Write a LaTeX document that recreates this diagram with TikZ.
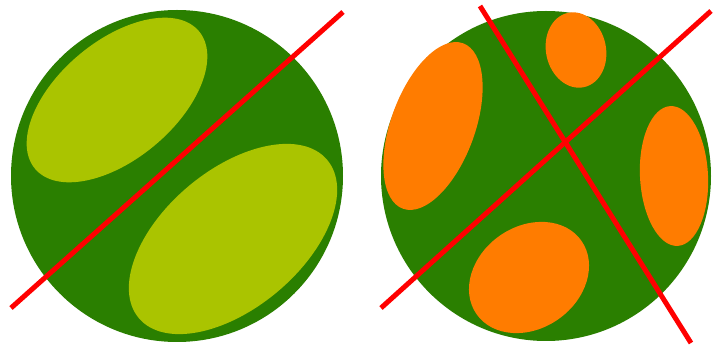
\documentclass[tikz,border=0pt]{standalone}
\definecolor{ballgreen}{RGB}{42,127,0}
\definecolor{lime}{RGB}{170,196,0}
\definecolor{patch}{RGB}{255,124,0}
\definecolor{cut}{RGB}{255,0,0}
\tikzset{
  ball/.style={fill=ballgreen},
  lpatch/.style={fill=lime},
  opatch/.style={fill=patch},
  cutline/.style={draw=cut, line width=5pt}
}
\begin{document}
\begin{tikzpicture}[x=1pt,y=-1pt]
\useasboundingbox (0,0) rectangle (716,347);
% left ball
\fill[ball] (177,176) circle (166);
\fill[lpatch] (117,100) ellipse[x radius=107, y radius=59, rotate=40];
\fill[lpatch] (233,239) ellipse[x radius=123, y radius=69, rotate=40];
\coordinate (l1) at (11,308);
\coordinate (l2) at (343,12);
\draw[cutline] (l1) -- (l2);
% right ball
\fill[ball] (546,176) circle (165);
\fill[opatch] (576,50) ellipse[x radius=30, y radius=38, rotate=12];
\fill[opatch] (433,126) ellipse[x radius=88, y radius=42, rotate=70];
\fill[opatch] (674,176) ellipse[x radius=34, y radius=70, rotate=3];
\fill[opatch] (529,277.5) ellipse[x radius=64, y radius=51, rotate=35];
\coordinate (r1) at (381,308);
\coordinate (r2) at (711,11);
\coordinate (r3) at (480,6);
\coordinate (r4) at (691,343);
\draw[cutline] (r1) -- (r2);
\draw[cutline] (r3) -- (r4);
\end{tikzpicture}
\end{document}
